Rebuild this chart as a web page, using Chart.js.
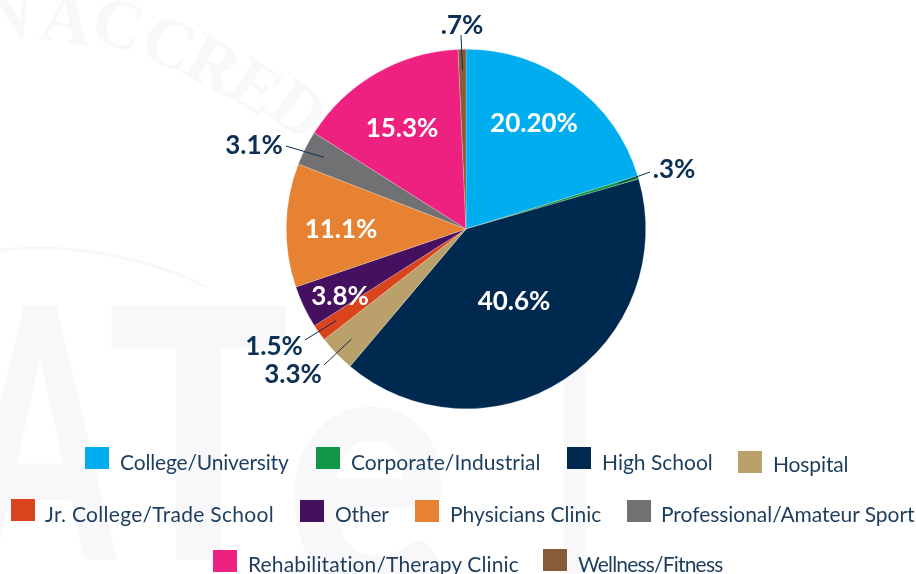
<!DOCTYPE html>
<html>
<head>
<meta charset="utf-8">
<title>Employment setting</title>
<script src="https://cdn.jsdelivr.net/npm/chart.js@4"></script>
<style>
  html, body { margin: 0; padding: 0; background: #fff; overflow: hidden; }
  #wrap { position: relative; width: 916px; height: 574px; font-family: Lato, sans-serif; }
  #pieChart { position: absolute; left: 0; top: 0; }
  .swatch { position: absolute; width: 24px; height: 22px; }
  .key { position: absolute; font-size: 21px; line-height: 24px; color: #1c3d5e; white-space: nowrap; }
</style>
</head>
<body>
<div id="wrap">
  <canvas id="pieChart" width="916" height="574"></canvas>
</div>
<script>
const categories = ["College/University","Corporate/Industrial","High School","Hospital","Jr. College/Trade School","Other","Physicians Clinic","Professional/Amateur Sport","Rehabilitation/Therapy Clinic","Wellness/Fitness"];
const shares = [20.2,0.3,40.6,3.3,1.5,3.8,11.1,3.1,15.3,0.7];
const shareLabels = ["20.20%",".3%","40.6%","3.3%","1.5%","3.8%","11.1%","3.1%","15.3%",".7%"];
const colors = ["#00aeef","#0f9647","#00294f","#baa06a","#d9441d","#44105f","#e88233","#717174","#ee2080","#875c3a"];

/* label layout, px on the canvas */
const labelXY = [[534,124],[674,170],[514,302],[293,375],[274,347],[340,297],[341,230],[254,146],[402,129],[462,26]];
const labelInk = ["#fff","#0b2f55","#fff","#0b2f55","#0b2f55","#fff","#fff","#0b2f55","#fff","#0b2f55"];
/* leader line start for the small slices, other end sits inside the slice */
const leaderFrom = { 1:[650,172], 3:[324,365], 4:[305,340], 7:[286,146], 9:[461,35] };

/* legend layout: swatch x, swatch y, text x, text centre y, text width */
const legendXY = [[85,447,120,462,169],[316,447,351,462,190],[567,447,602,462,111],[738,451,773,464,75],[11,499,45,514,229],[300,500,335,514,54],[415,500,450,514,151],[627,500,661,514,254],[213,550,248,564,271],[543,549,578,564,144]];

/* faint seal behind the chart: letter, x, y, angle in degrees */
const sealLetters = [["N",5,36,5],["A",63,42,8],["C",112,46,16],["C",160,64,23],["R",203,84,28],["E",243,106,33],["D",285,128,38]];

const wrap = document.getElementById("wrap");
categories.forEach((name, i) => {
  const s = document.createElement("div");
  s.className = "swatch";
  s.style.left = legendXY[i][0] + "px";
  s.style.top = legendXY[i][1] + "px";
  s.style.background = colors[i];
  wrap.appendChild(s);

  const t = document.createElement("div");
  t.className = "key";
  t.style.left = legendXY[i][2] + "px";
  t.style.top = (legendXY[i][3] - 12) + "px";
  t.textContent = name;
  wrap.appendChild(t);

  // squeeze or stretch so each key ends where it should
  t.style.letterSpacing = ((legendXY[i][4] - t.offsetWidth) / name.length) + "px";
});

/* WATERMARK */
const watermark = {
  id: "watermark",
  beforeDraw(chart) {
    const ctx = chart.ctx;
    ctx.save();
    ctx.fillStyle = "#f8f8fb";
    ctx.strokeStyle = "#f8f8fb";

    ctx.font = "bold 70px 'Liberation Serif', serif";
    ctx.textAlign = "center";
    sealLetters.forEach(l => {
      ctx.save();
      ctx.translate(l[1], l[2]);
      ctx.rotate(l[3] * Math.PI / 180);
      ctx.fillText(l[0], 0, 0);
      ctx.restore();
    });

    ctx.beginPath();
    ctx.lineWidth = 3;
    ctx.moveTo(0, 250);
    ctx.quadraticCurveTo(110, 240, 207, 287);
    ctx.stroke();

    ctx.font = "900 350px Lato, sans-serif";
    ctx.textAlign = "left";
    ctx.fillText("A", -35, 560, 150);
    ctx.fillText("T", 107, 560, 183);
    ctx.fillText("e", 285, 590, 165);
    ctx.fillText("l", 555, 590, 40);
    ctx.restore();
  }
};

/* LABELS + LEADERS */
const pieLabels = {
  id: "pieLabels",
  afterDatasetsDraw(chart) {
    const ctx = chart.ctx;
    const arcs = chart.getDatasetMeta(0).data;
    ctx.save();

    Object.keys(leaderFrom).forEach(k => {
      const a = arcs[k];
      const mid = (a.startAngle + a.endAngle) / 2;
      const r = a.outerRadius * 0.885;
      ctx.beginPath();
      ctx.moveTo(leaderFrom[k][0], leaderFrom[k][1]);
      ctx.lineTo(a.x + Math.cos(mid) * r, a.y + Math.sin(mid) * r);
      ctx.strokeStyle = "#0b2f55";
      ctx.lineWidth = 1;
      ctx.stroke();
    });

    ctx.font = "bold 26px Lato, sans-serif";
    ctx.textAlign = "center";
    ctx.textBaseline = "middle";
    shareLabels.forEach((txt, i) => {
      ctx.fillStyle = labelInk[i];
      ctx.fillText(txt, labelXY[i][0], labelXY[i][1]);
    });
    ctx.restore();
  }
};

new Chart(document.getElementById("pieChart"), {
  type: "pie",
  data: {
    labels: categories,
    datasets: [{
      data: shares,
      backgroundColor: colors,
      borderColor: "rgba(255,255,255,.45)",
      borderWidth: 0.5
    }]
  },
  options: {
    responsive: false,
    animation: false,
    layout: { padding: { left: 286, right: 270, top: 49, bottom: 165 } },
    plugins: {
      legend: { display: false },
      tooltip: { enabled: false }
    }
  },
  plugins: [watermark, pieLabels]
});
</script>
</body>
</html>
